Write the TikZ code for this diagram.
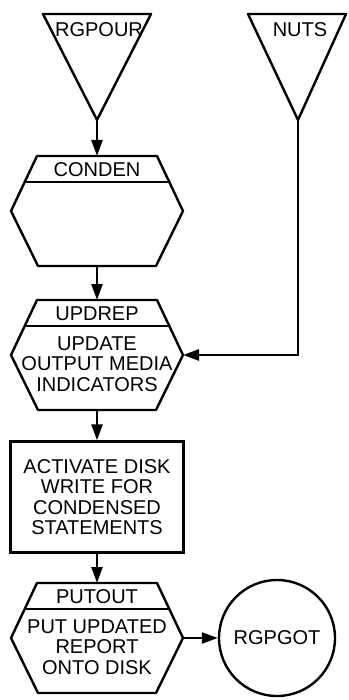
\documentclass[tikz,border=0pt]{standalone}
\usepackage{fontspec}
\setmainfont{Liberation Sans}
\usetikzlibrary{arrows.meta}

\tikzset{
  pics/module/.style 2 args={code={
    \draw[shapeline] (-60,0) -- (60,0) -- (86,55) coordinate (-right)
      -- (59,110) -- (-59,110) -- (-86,55) -- cycle;
    \draw[shapeline] (-72.3,26) -- (72.3,26);
    \coordinate (-top) at (0,0);
    \coordinate (-bot) at (0,110);
    \node[lbl] (-head) at (0,14) {#1};
    \node[lbl] (-body) at (0,64) {#2};
  }}
}

\begin{document}
\begin{tikzpicture}[x=1pt,y=-1pt,line width=2.4pt,
    font=\fontsize{20}{20.5}\selectfont,
    shapeline/.style={line width=2.4pt,line join=round},
    lbl/.style={inner sep=0pt,align=center},
    stepbox/.style={draw,minimum width=173pt,minimum height=111pt,
      align=center,inner sep=0pt},
    conn/.style={circle,draw,minimum size=116pt,inner sep=0pt},
    arr/.style={-{Triangle[length=16pt,width=11pt]}}
  ]
  \useasboundingbox (0,0) rectangle (348,700);
  \draw[shapeline] (43,14) -- (151,14) -- (97,120) coordinate (rgpour-tip) -- cycle;
  \node[lbl] (rgpour) at (99,30) {RGPOUR};
  \draw[shapeline] (248,14) -- (346,14) -- (298,120) coordinate (nuts-tip) -- cycle;
  \node[lbl] (nuts) at (300,30) {NUTS};

  \pic (conden) at (97,156) {module={CONDEN}{}};
  \pic (updrep) at (97,300) {module={UPDREP}{UPDATE\\OUTPUT MEDIA\\INDICATORS}};
  \node[stepbox] (activate) at (97,497) {ACTIVATE DISK\\WRITE FOR\\CONDENSED\\STATEMENTS};
  \pic (putout) at (97,583) {module={PUTOUT}{PUT UPDATED\\REPORT\\ONTO DISK}};
  \node[conn] (rgpgot) at (277,638) {RGPGOT};

  \draw[arr] (rgpour-tip) -- (conden-top);
  \draw[arr] (conden-bot) -- (updrep-top);
  \draw[arr] (nuts-tip) |- (updrep-right);
  \draw[arr] (updrep-bot) -- (activate);
  \draw[arr] (activate) -- (putout-top);
  \draw[arr] (putout-right) -- (rgpgot);
\end{tikzpicture}
\end{document}
